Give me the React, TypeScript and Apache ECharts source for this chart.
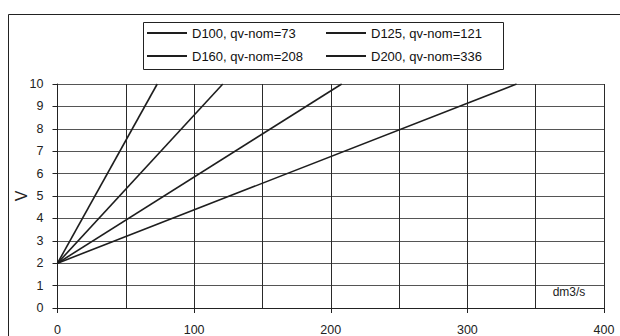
import React, { useEffect, useRef } from "react";
import * as echarts from "echarts";

const seriesNames = ["D100, qv-nom=73", "D125, qv-nom=121", "D160, qv-nom=208", "D200, qv-nom=336"];
const startV = 2;
const endV = 10;
const nominalFlows = [73, 121, 208, 336];
const xTicks = [0, 100, 200, 300, 400];
const yTicks = [0, 1, 2, 3, 4, 5, 6, 7, 8, 9, 10];

export default function App() {
  const ref = useRef<HTMLDivElement>(null);
  useEffect(() => {
    if (!ref.current) return;
    const chart = echarts.init(ref.current, null, { renderer: "svg" });
    const font = "Liberation Sans, Arial, sans-serif";
    const series = seriesNames.map((name, i) => ({
      name,
      type: "line",
      symbol: "none",
      data: [
        [0, startV],
        [nominalFlows[i], endV],
      ],
      lineStyle: { color: "#1e1e1e", width: 1.6 },
      itemStyle: { color: "#1e1e1e" },
    }));
    const legendCommon = {
      orient: "vertical",
      top: 26.5,
      itemWidth: 40,
      itemHeight: 2,
      icon: "rect",
      itemGap: 10,
      padding: 0,
      textStyle: { fontFamily: font, fontSize: 13, color: "#111" },
    };
    chart.setOption({
      animation: false,
      backgroundColor: "#fff",
      grid: {
        left: 57.5,
        top: 84,
        width: 546.5,
        height: 224,
        containLabel: false,
        outerBoundsMode: "none",
      },
      legend: [
        { ...legendCommon, left: 147, data: [seriesNames[0], seriesNames[2]] },
        { ...legendCommon, left: 326, data: [seriesNames[1], seriesNames[3]] },
      ],
      graphic: [
        {
          type: "rect",
          shape: { x: 8.5, y: 14.5, width: 700, height: 400 },
          style: { fill: "none", stroke: "#222", lineWidth: 1 },
          silent: true,
        },
        {
          type: "rect",
          shape: { x: 143.5, y: 22.5, width: 360, height: 47 },
          style: { fill: "none", stroke: "#222", lineWidth: 1 },
          silent: true,
        },
        {
          type: "text",
          x: 569,
          y: 292,
          style: {
            text: "dm3/s",
            fontFamily: font,
            fontSize: 12,
            fill: "#222",
            align: "center",
            verticalAlign: "middle",
          },
        },
      ],
      xAxis: {
        type: "value",
        min: xTicks[0],
        max: xTicks[xTicks.length - 1],
        interval: 100,
        axisLine: { lineStyle: { color: "#222", width: 1 } },
        axisTick: { show: true, length: 5, lineStyle: { color: "#222" } },
        axisLabel: { fontFamily: font, fontSize: 12.5, color: "#222", margin: 15 },
        splitLine: { show: true, lineStyle: { color: "#2a2a2a", width: 1 } },
        minorTick: { show: false, splitNumber: 2 },
        minorSplitLine: { show: true, lineStyle: { color: "#2a2a2a", width: 1 } },
      },
      yAxis: {
        type: "value",
        min: yTicks[0],
        max: yTicks[yTicks.length - 1],
        interval: 1,
        name: "V",
        nameLocation: "middle",
        nameGap: 28,
        nameMoveOverlap: false,
        nameTextStyle: { fontFamily: font, fontSize: 16, color: "#222" },
        axisLine: { show: true, lineStyle: { color: "#222", width: 1 } },
        axisTick: { show: true, length: 5, lineStyle: { color: "#222" } },
        axisLabel: { fontFamily: font, fontSize: 12.5, color: "#222", margin: 14 },
        splitLine: { show: true, lineStyle: { color: "#555", width: 1 } },
      },
      series,
    });
    return () => chart.dispose();
  }, []);
  return <div ref={ref} style={{ width: 620, height: 336, position: "absolute", left: 0, top: 0 }} />;
}
